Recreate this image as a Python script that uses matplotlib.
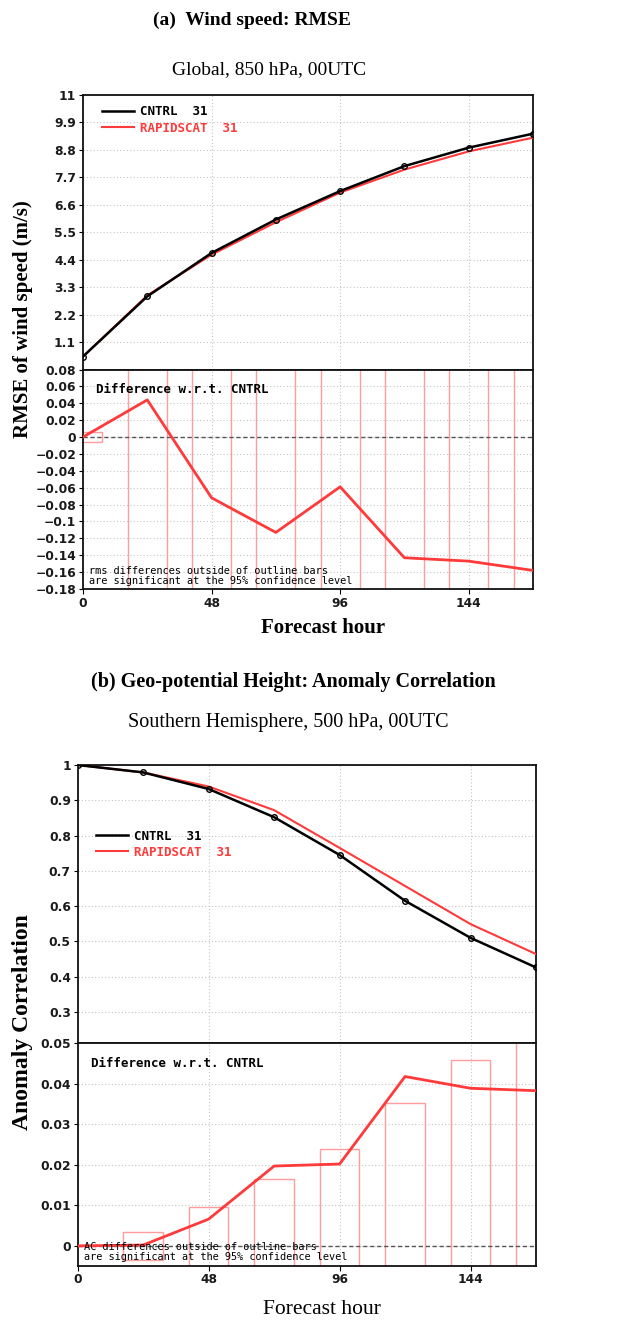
import numpy as np
import matplotlib
matplotlib.use('Agg')
import matplotlib.pyplot as plt
from matplotlib.lines import Line2D

# Horas de previsão usadas nos dois painéis
horas = [0, 24, 48, 72, 96, 120, 144, 168]

# --- PAINEL (a): RMSE do vento em 850 hPa ---
rmse_cntrl = [0.52, 2.93, 4.67, 6.01, 7.15, 8.15, 8.89, 9.45]
rmse_rapid = [0.52, 2.97, 4.60, 5.90, 7.09, 8.01, 8.74, 9.29]
dif_rmse = [0.0, 0.044, -0.072, -0.113, -0.059, -0.143, -0.147, -0.158]
# meia altura das barras de significância (as maiores saem do gráfico)
barra_rmse = [0.006, 0.2, 0.2, 0.2, 0.2, 0.2, 0.2, 0.2]

# --- PAINEL (b): correlação de anomalia em 500 hPa ---
ac_cntrl = [1.0, 0.979, 0.932, 0.852, 0.745, 0.615, 0.510, 0.426]
ac_rapid = [1.0, 0.979, 0.939, 0.872, 0.765, 0.657, 0.549, 0.464]
dif_ac = [0.0, 0.0002, 0.0066, 0.0197, 0.0202, 0.0418, 0.0389, 0.0383]
barra_ac = [0.0, 0.0034, 0.0095, 0.0165, 0.024, 0.0352, 0.0458, 0.052]

nomes = ['CNTRL  31', 'RAPIDSCAT  31']

ticks_rmse = [1.1, 2.2, 3.3, 4.4, 5.5, 6.6, 7.7, 8.8, 9.9, 11]
rot_rmse = ['1.1', '2.2', '3.3', '4.4', '5.5', '6.6', '7.7', '8.8', '9.9', '11']
ticks_dif_rmse = [-0.18, -0.16, -0.14, -0.12, -0.1, -0.08, -0.06, -0.04, -0.02, 0, 0.02, 0.04, 0.06, 0.08]
rot_dif_rmse = ['−0.18', '−0.16', '−0.14', '−0.12', '−0.1', '−0.08', '−0.06', '−0.04', '−0.02',
                '0', '0.02', '0.04', '0.06', '0.08']
ticks_ac = [0.3, 0.4, 0.5, 0.6, 0.7, 0.8, 0.9, 1.0]
rot_ac = ['0.3', '0.4', '0.5', '0.6', '0.7', '0.8', '0.9', '1']
ticks_dif_ac = [0, 0.01, 0.02, 0.03, 0.04, 0.05]
rot_dif_ac = ['0', '0.01', '0.02', '0.03', '0.04', '0.05']
ticks_x = [0, 48, 96, 144]

VERMELHO = '#ff3a3a'
ROSA = '#ff9c9c'
W, H = 617, 1320

fig = plt.figure(figsize=(W / 100, H / 100), dpi=100)


def eixo(x0, x1, y0, y1):
    # recebe pixels (topo=y0, base=y1) e cria o eixo na figura
    return fig.add_axes([x0 / W, 1 - y1 / H, (x1 - x0) / W, (y1 - y0) / H])


def estilo(ax, ticks, rotulos, com_x):
    ax.set_xlim(0, 168)
    ax.set_yticks(ticks)
    ax.set_yticklabels(rotulos, fontsize=8.8, fontweight='bold', color='#1a1a1a')
    ax.set_xticks(ticks_x)
    if com_x:
        ax.set_xticklabels([str(t) for t in ticks_x], fontsize=8.8, fontweight='bold', color='#1a1a1a')
    else:
        ax.set_xticklabels([])
        ax.tick_params(axis='x', length=0)
    ax.tick_params(axis='y', length=3, width=0.8, pad=2)
    ax.tick_params(axis='x', pad=2)
    ax.grid(True, color='#c4c4c4', linestyle=(0, (1, 2)), linewidth=0.8)
    for s in ax.spines.values():
        s.set_linewidth(1.3)
        s.set_color('#111111')


def painel_superior(ax, cntrl, rapid, leg_x, leg_y):
    ax.plot(horas, cntrl, color='black', lw=1.8, marker='o', ms=4, mfc='none', mec='black', mew=1,
            zorder=4)
    ax.plot(horas, rapid, color=VERMELHO, lw=1.5, zorder=3)
    # legenda só com as linhas, sem marcador (como no original)
    alcas = [Line2D([], [], color='black', lw=1.8), Line2D([], [], color=VERMELHO, lw=1.5)]
    ax.legend(alcas, nomes, loc='upper left', bbox_to_anchor=(leg_x, leg_y), frameon=False, borderpad=0,
              borderaxespad=0, handlelength=2.5, handletextpad=0.5, labelspacing=0.25,
              labelcolor='linecolor', prop={'family': 'DejaVu Sans Mono', 'weight': 'bold', 'size': 9})


def painel_diferenca(ax, dif, barra, ylim, texto_nota):
    ax.bar(horas, [2 * b for b in barra], bottom=[-b for b in barra], width=14.5,
           fill=False, edgecolor=ROSA, linewidth=1.0, zorder=2)
    ax.axhline(0, color='#555555', lw=1, linestyle=(0, (3, 2)), zorder=2)
    ax.plot(horas, dif, color=VERMELHO, lw=2, zorder=3)
    ax.set_ylim(*ylim)
    ax.text(0.029, 0.91, 'Difference w.r.t. CNTRL', transform=ax.transAxes, va='center',
            family='DejaVu Sans Mono', fontweight='bold', fontsize=9)
    ax.text(0.014, 0.083, texto_nota, transform=ax.transAxes, va='center',
            family='DejaVu Sans Mono', fontsize=7.4)
    ax.text(0.014, 0.037, 'are significant at the 95% confidence level', transform=ax.transAxes,
            va='center', family='DejaVu Sans Mono', fontsize=7.4)


# --- (a) ---
ax1 = eixo(83, 533, 95, 369.5)
painel_superior(ax1, rmse_cntrl, rmse_rapid, 0.043, 0.962)
ax1.set_ylim(0, 11)
estilo(ax1, ticks_rmse, rot_rmse, False)

ax2 = eixo(83, 533, 369.5, 589)
painel_diferenca(ax2, dif_rmse, barra_rmse, (-0.18, 0.08), 'rms differences outside of outline bars')
estilo(ax2, ticks_dif_rmse, rot_dif_rmse, True)

fig.text(252 / W, 1 - 20 / H, '(a)  Wind speed: RMSE', ha='center', va='center',
         family='Liberation Serif', fontweight='bold', fontsize=14)
fig.text(269 / W, 1 - 70 / H, 'Global, 850 hPa, 00UTC', ha='center', va='center',
         family='Liberation Serif', fontsize=14)
fig.text(23 / W, 1 - 319 / H, 'RMSE of wind speed (m/s)', ha='center', va='center', rotation=90,
         family='Liberation Serif', fontweight='bold', fontsize=15)
fig.text(323 / W, 1 - 628 / H, 'Forecast hour', ha='center', va='center',
         family='Liberation Serif', fontweight='bold', fontsize=15)

# --- (b) ---
ax3 = eixo(77.7, 536, 765, 1043.3)
painel_superior(ax3, ac_cntrl, ac_rapid, 0.041, 0.768)
ax3.set_ylim(0.211, 1.0)
estilo(ax3, ticks_ac, rot_ac, False)

ax4 = eixo(77.7, 536, 1043.3, 1265.7)
painel_diferenca(ax4, dif_ac, barra_ac, (-0.0049, 0.05), 'AC differences outside of outline bars')
estilo(ax4, ticks_dif_ac, rot_dif_ac, True)

fig.text(293 / W, 1 - 682 / H, '(b) Geo-potential Height: Anomaly Correlation', ha='center',
         va='center', family='Liberation Serif', fontweight='bold', fontsize=14.5)
fig.text(288 / W, 1 - 722 / H, 'Southern Hemisphere, 500 hPa, 00UTC', ha='center', va='center',
         family='Liberation Serif', fontsize=14.5)
fig.text(23 / W, 1 - 1022 / H, 'Anomaly Correlation', ha='center', va='center', rotation=90,
         family='Liberation Serif', fontweight='bold', fontsize=17)
fig.text(322 / W, 1 - 1310 / H, 'Forecast hour', ha='center', va='center',
         family='Liberation Serif', fontsize=15.5)

fig.savefig('out.png', dpi=100)
